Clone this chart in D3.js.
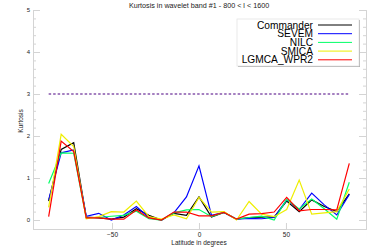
<!DOCTYPE html>
<html>
<head>
<meta charset="utf-8">
<title>Kurtosis</title>
<script src="https://d3js.org/d3.v7.min.js"></script>
<style>
  body { margin:0; background:#fff; }
  text { font-family: "Liberation Sans", Arial, sans-serif; fill:#222; }
  .ax path, .ax line { stroke:#d4d4d4; }
</style>
</head>
<body>
<svg width="375" height="250"></svg>
<script>
// latitude bins (degrees)
var lat = [-86.4, -79.2, -72, -64.8, -57.6, -50.4, -43.2, -36, -28.8, -21.6, -14.4, -7.2,
           0, 7.2, 14.4, 21.6, 28.8, 36, 43.2, 50.4, 57.6, 64.8, 72, 79.2, 86.4];

var commander = [0.45, 1.68, 1.84, 0.07, 0.05, 0.02, 0.07, 0.27, 0.11, 0, 0.16, 0.11, 0.55, 0.07, 0.18, 0.02, 0.06, 0.07, 0.07, 0.45, 0.2, 0.48, 0.32, 0.2, 0.62];
var sevem     = [0.48, 1.6, 1.67, 0.09, 0.16, 0, 0.12, 0.32, 0.06, 0, 0.17, 0.55, 1.29, 0.11, 0.18, 0.02, 0.04, 0.03, 0.06, 0.48, 0.25, 0.64, 0.36, 0.12, 0.61];
var nilc      = [0.87, 1.6, 1.59, 0.05, 0.06, 0.09, 0.11, 0.21, 0.03, 0, 0.17, 0.24, 0.25, 0.08, 0.18, 0.02, 0.06, 0.09, 0, 0.49, 0.26, 0.5, 0.27, 0.02, 0.9];
var smica     = [0.3, 2.04, 1.75, 0.03, 0.08, 0.2, 0.19, 0.45, 0.08, 0.02, 0.12, 0.03, 0.54, 0.19, 0.2, 0, 0.44, 0.14, 0.08, 0.25, 0.95, 0.14, 0.17, 0.2, 0.74];
var lgmca     = [0.08, 1.88, 1.63, 0.05, 0.05, 0.02, 0.02, 0.24, 0.05, 0, 0.19, 0.19, 0.1, 0.1, 0.18, 0.02, 0.14, 0.15, 0.19, 0.54, 0.22, 0.25, 0.25, 0.24, 1.35];

var names  = ["Commander", "SEVEM", "NILC", "SMICA", "LGMCA_WPR2"];
var colors = ["#000000", "#0000ff", "#00ff66", "#eeee00", "#ff0000"];
var series = [commander, sevem, nilc, smica, lgmca];
var gaussLevel = 3;

var svg = d3.select("svg");

var x = d3.scaleLinear().domain([-95.4, 96]).range([33, 366]);
var y = d3.scaleLinear().domain([-0.214, 5]).range([229, 10]);

// axes
var yMajor = [0, 1, 2, 3, 4, 5];
var yMinor = d3.range(0, 5.01, 0.2);
svg.append("g").attr("class", "ax").attr("transform", "translate(33,0)")
  .call(d3.axisLeft(y).tickValues(yMinor).tickSize(-3).tickFormat(""));
svg.append("g").attr("class", "ax").attr("transform", "translate(33,0)")
  .call(d3.axisLeft(y).tickValues(yMajor).tickSize(-7).tickPadding(-3).tickFormat(d3.format("d")))
  .call(function(g){ g.selectAll("text").attr("x", -3).style("font-size", "6px"); });
svg.append("g").attr("class", "ax").attr("transform", "translate(366,0)")
  .call(d3.axisRight(y).tickValues(yMinor).tickSize(-3).tickFormat(""));
svg.append("g").attr("class", "ax").attr("transform", "translate(366,0)")
  .call(d3.axisRight(y).tickValues(yMajor).tickSize(-7).tickFormat(""));
svg.append("g").attr("class", "ax").attr("transform", "translate(0,229)")
  .call(d3.axisBottom(x).tickValues([-50, 0, 50]).tickSize(-6).tickPadding(-4).tickFormat(d3.format("d")))
  .call(function(g){ g.selectAll("text").attr("y", 3.8).style("font-size", "6.5px"); });
svg.selectAll(".ax .domain").attr("stroke", "#d4d4d4");

// gaussian reference level
svg.append("line")
  .attr("x1", x(lat[0])).attr("x2", x(lat[lat.length - 1]))
  .attr("y1", y(gaussLevel)).attr("y2", y(gaussLevel))
  .attr("stroke", "#4b0082").attr("stroke-width", 1.2).attr("stroke-dasharray", "2.5,2");

// curves
var line = d3.line().x(function(d, i){ return x(lat[i]); }).y(function(d){ return y(d); });
svg.selectAll("path.curve").data(series).enter().append("path")
  .attr("class", "curve")
  .attr("d", line)
  .attr("fill", "none")
  .attr("stroke", function(d, i){ return colors[i]; })
  .attr("stroke-width", 1.2);

// titles
svg.append("text").attr("x", 199).attr("y", 8).attr("text-anchor", "middle")
  .style("font-size", "7.2px").text("Kurtosis in wavelet band #1 - 800 < l < 1600");
svg.append("text").attr("x", 199).attr("y", 245).attr("text-anchor", "middle")
  .style("font-size", "6.5px").text("Latitude in degrees");
svg.append("text").attr("transform", "translate(23,121) rotate(-90)").attr("text-anchor", "middle")
  .style("font-size", "6.5px").text("Kurtosis");

// legend
var lg = svg.append("g");
lg.append("rect").attr("x", 238).attr("y", 20).attr("width", 122).attr("height", 47).attr("fill", "#aaa");
lg.append("rect").attr("x", 237).attr("y", 19).attr("width", 122).attr("height", 47)
  .attr("fill", "#fff").attr("stroke", "#e4e4e4").attr("stroke-width", 0.8);
var ent = lg.selectAll("g.ent").data(names).enter().append("g")
  .attr("transform", function(d, i){ return "translate(0," + (25 + i * 8.7) + ")"; });
ent.append("line").attr("x1", 318).attr("x2", 352).attr("y1", 0).attr("y2", 0)
  .attr("stroke", function(d, i){ return colors[i]; }).attr("stroke-width", 1);
ent.append("text").attr("x", 313).attr("y", 3.6).attr("text-anchor", "end")
  .style("font-size", "10.2px").style("fill", "#000").text(function(d){ return d; });
</script>
</body>
</html>
